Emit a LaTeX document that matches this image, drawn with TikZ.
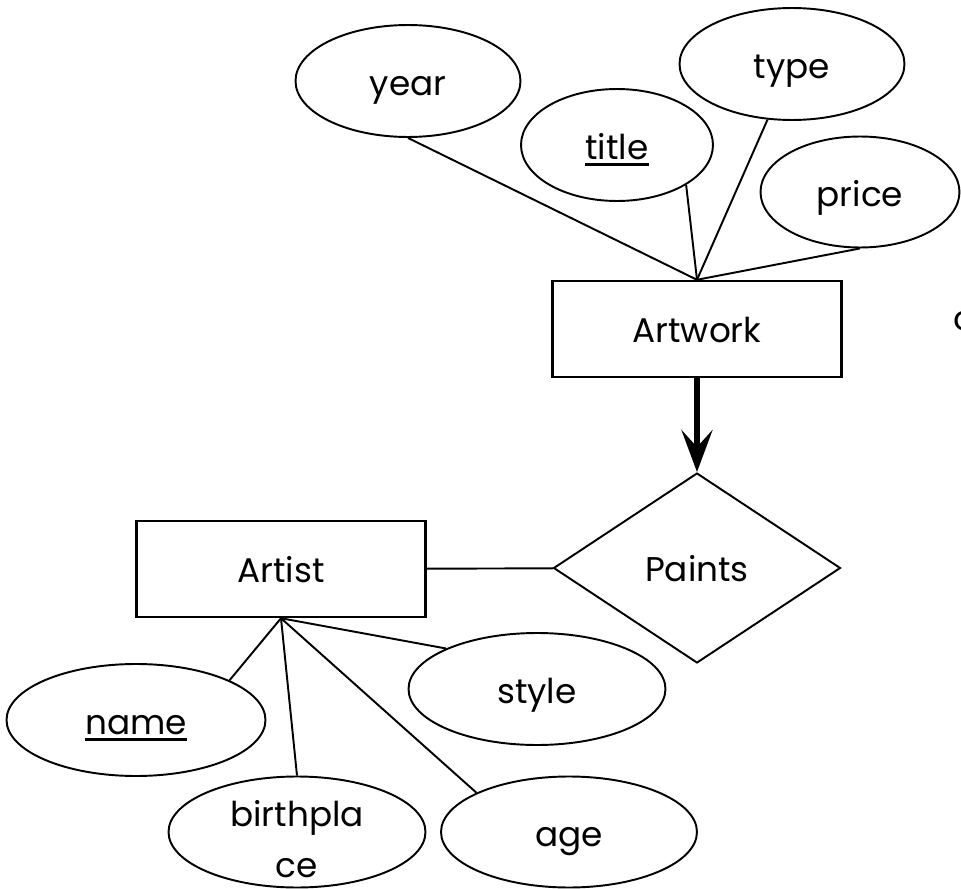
\documentclass[tikz,border=0pt]{standalone}
\usepackage{fontspec}
\setmainfont{Poppins}
\usetikzlibrary{arrows.meta,shapes,positioning}
\newcommand{\erfont}{\fontsize{19.5}{29}\selectfont}
\newcommand{\keyattr}[1]{\setbox0=\hbox{#1}\rlap{\smash{\rule[-0.17em]{\wd0}{0.085em}}}\box0}
\tikzstyle{entity} = [rectangle, draw, line width=1.4pt, minimum width=5.78cm, minimum height=1.92cm, inner sep=0pt, font=\erfont, text height=15pt, text depth=0pt]
\tikzstyle{attrib} = [ellipse, draw, line width=1.1pt, minimum width=5.14cm, minimum height=2.24cm, inner sep=0pt, font=\erfont, text height=17pt, text depth=0pt]
\tikzstyle{relation} = [diamond, draw, line width=1.1pt, minimum width=5.74cm, minimum height=3.8cm, inner sep=0pt, font=\erfont, text height=15pt, text depth=0pt]
\tikzstyle{link} = [line width=1.1pt]
\tikzstyle{arrow} = [line width=3.2pt, -{Stealth[length=0.84cm, width=0.62cm, inset=0.34cm]}]

\begin{document}
\begin{tikzpicture}[x=0.02cm, y=-0.02cm]
\useasboundingbox (0,0) rectangle (961,889);

% Artwork side
\node[entity] (artwork) at (697,329) {Artwork};
\node[attrib, minimum width=4.5cm] (year) at (408,81) {year};
\node[attrib, minimum width=3.84cm] (title) at (617,145) {\keyattr{title}};
\node[attrib, minimum width=4.5cm] (type) at (792,64) {type};
\node[attrib, minimum width=3.98cm, minimum height=2.22cm] (price) at (860,192) {price};

% Relationship
\node[relation] (paints) at (697,568) {Paints};

% Artist side
\node[entity] (artist) at (281,569) {Artist};
\node[attrib, minimum width=5.18cm] (name) at (136,720) {\keyattr{name}};
\node[attrib, minimum height=2.22cm, align=center, text height={}, text depth={}, inner ysep=-0.25cm] (birth) at (297,832) {\rule{0pt}{23pt}birthpla\\ce};
\node[attrib] (style) at (537,689) {style};
\node[attrib, minimum width=5.12cm, minimum height=2.22cm] (age) at (569,832) {age};

% cut-off text at the right edge
\node[font=\erfont, inner sep=0pt, anchor=base west] (cut) at (953,330) {o};

% Lines
\draw[link] (year.south) -- (artwork.north);
\draw[link] (title.-30) -- (artwork.north);
\draw[link] (type) -- (artwork.north);
\draw[link] (price.south) -- (artwork.north);
\draw[arrow] (artwork) -- (paints);
\draw[link] (artist) -- (paints);
\draw[link] (name.23) -- (artist.south);
\draw[link] (birth.north) -- (artist.south);
\draw[link] (age.157) -- (artist.south);
\draw[link] (style.156) -- (artist.south);
\end{tikzpicture}
\end{document}
